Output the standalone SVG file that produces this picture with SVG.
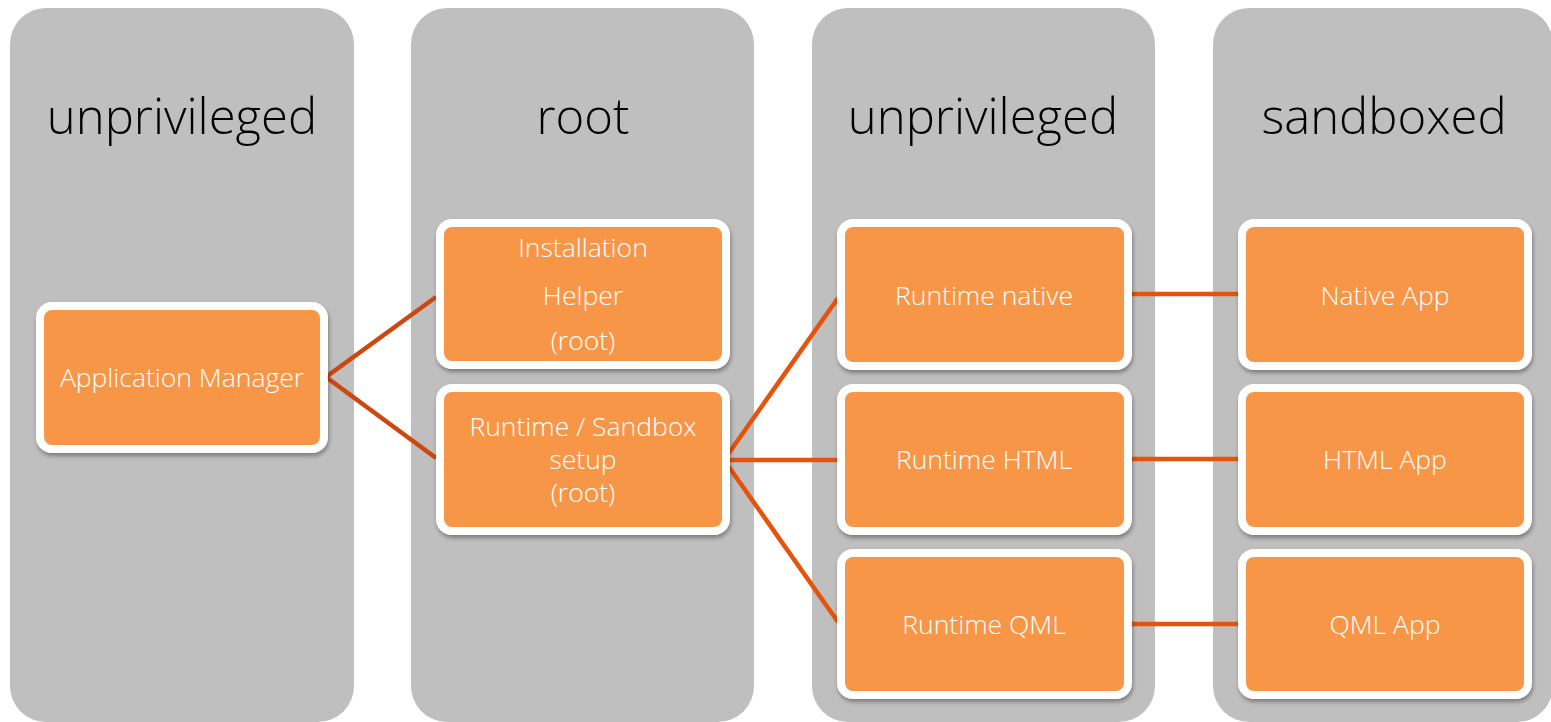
<svg xmlns="http://www.w3.org/2000/svg" width="1551" height="722" viewBox="0 0 1551 722">
<defs>
<style>
.col{fill:#bfbfbf}
.hdr{font-family:"Open Sans","Noto Sans","Liberation Sans",sans-serif;font-size:49px;fill:#000;text-anchor:middle;font-weight:300}
.box{fill:#f79646;stroke:#fff;stroke-width:8;filter:url(#sh)}
.lbl{font-family:"Open Sans","Noto Sans","Liberation Sans",sans-serif;font-size:26.5px;fill:#fff;text-anchor:middle;font-weight:300}
.c1{stroke:#cd470f;stroke-width:4.5;fill:none}
.c2{stroke:#e5530c;stroke-width:4.5;fill:none}
</style>
<filter id="sh" x="-10%" y="-10%" width="120%" height="130%">
<feDropShadow dx="1" dy="3" stdDeviation="2" flood-color="#000" flood-opacity="0.35"/>
</filter>
</defs>
<g id="columns">
<g id="col1"><rect class="col" x="10" y="8" width="344" height="714" rx="36"/><text class="hdr" x="182" y="134">unprivileged</text></g>
<g id="col2"><rect class="col" x="411" y="8" width="343" height="714" rx="36"/><text class="hdr" x="583" y="134">root</text></g>
<g id="col3"><rect class="col" x="812" y="8" width="343" height="714" rx="36"/><text class="hdr" x="983" y="134">unprivileged</text></g>
<g id="col4"><rect class="col" x="1213" y="8" width="340" height="714" rx="36"/><text class="hdr" x="1384" y="134">sandboxed</text></g>
</g>
<g id="connectors">
<polyline class="c1" points="436,297 326,377 436,458"/>
<line class="c2" x1="724" y1="460" x2="838" y2="298"/>
<line class="c2" x1="724" y1="460" x2="838" y2="460"/>
<line class="c2" x1="724" y1="460" x2="838" y2="622"/>
<line class="c2" x1="1128" y1="294" x2="1240" y2="294"/>
<line class="c2" x1="1128" y1="459" x2="1240" y2="459"/>
<line class="c2" x1="1128" y1="624" x2="1240" y2="624"/>
</g>
<g id="appmanager"><rect class="box" x="40" y="306" width="284" height="143" rx="12"/><text class="lbl" x="182" y="387">Application Manager</text></g>
<g id="installhelper"><rect class="box" x="440" y="223" width="286" height="142" rx="12"/><text class="lbl" x="583" y="257">Installation</text><text class="lbl" x="583" y="305">Helper</text><text class="lbl" x="583" y="350">(root)</text></g>
<g id="sandboxsetup"><rect class="box" x="440" y="388" width="286" height="143" rx="12"/><text class="lbl" x="583" y="436">Runtime / Sandbox</text><text class="lbl" x="583" y="469">setup</text><text class="lbl" x="583" y="502">(root)</text></g>
<g id="rtnative"><rect class="box" x="841" y="223" width="287" height="143" rx="12"/><text class="lbl" x="984" y="305">Runtime native</text></g>
<g id="rthtml"><rect class="box" x="841" y="388" width="287" height="143" rx="12"/><text class="lbl" x="984" y="469">Runtime HTML</text></g>
<g id="rtqml"><rect class="box" x="841" y="553" width="287" height="142" rx="12"/><text class="lbl" x="984" y="634">Runtime QML</text></g>
<g id="nativeapp"><rect class="box" x="1242" y="223" width="286" height="143" rx="12"/><text class="lbl" x="1385" y="305">Native App</text></g>
<g id="htmlapp"><rect class="box" x="1242" y="388" width="286" height="143" rx="12"/><text class="lbl" x="1385" y="469">HTML App</text></g>
<g id="qmlapp"><rect class="box" x="1242" y="553" width="286" height="142" rx="12"/><text class="lbl" x="1385" y="634">QML App</text></g>
</svg>
